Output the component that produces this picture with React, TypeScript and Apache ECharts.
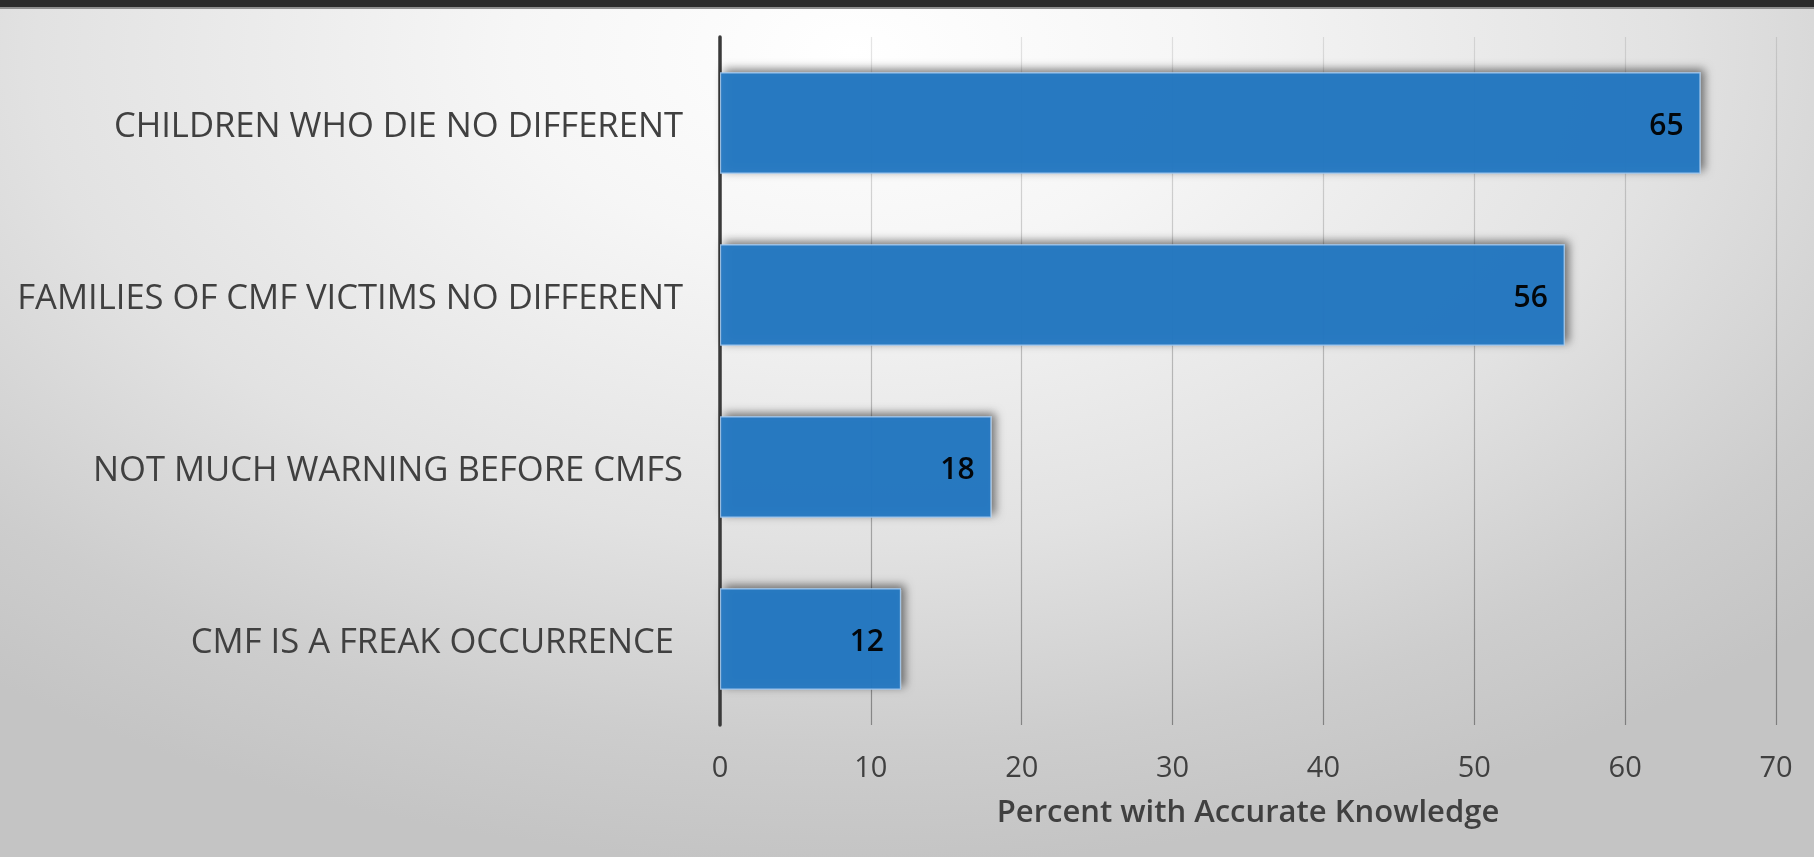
import React, { useEffect, useRef } from "react";
import * as echarts from "echarts";

// Survey items, listed top to bottom
const categories = [
  "CHILDREN WHO DIE NO DIFFERENT",
  "FAMILIES OF CMF VICTIMS NO DIFFERENT",
  "NOT MUCH WARNING BEFORE CMFS",
  "CMF IS A FREAK OCCURRENCE ",
];
// Percent of respondents with accurate knowledge per item
const percents = [65, 56, 18, 12];
const axisTitle = "Percent with Accurate Knowledge";
const xMin = 0;
const xMax = 70;
const xStep = 10;

const W = 1814;
const H = 857;
const FONT = "'Open Sans', 'Noto Sans', sans-serif";

export default function App() {
  const ref = useRef<HTMLDivElement>(null);

  useEffect(() => {
    if (!ref.current) return;
    const chart = echarts.init(ref.current, null, { renderer: "svg" });
    const gridTop = 37;
    const gridBottom = 132;
    chart.setOption({
      animation: false,
      backgroundColor: "transparent",
      textStyle: { fontFamily: FONT },
      grid: { left: 720, right: 38, top: gridTop, bottom: gridBottom, containLabel: false },
      xAxis: {
        type: "value",
        min: xMin,
        max: xMax,
        interval: xStep,
        axisLine: { show: false },
        axisTick: { show: false },
        axisLabel: { color: "#404040", fontSize: 29, margin: 26, fontFamily: FONT },
        splitLine: {
          show: true,
          lineStyle: {
            width: 1.2,
            color: new echarts.graphic.LinearGradient(
              0, gridTop, 0, H - gridBottom,
              [
                { offset: 0, color: "rgba(0,0,0,0.1)" },
                { offset: 1, color: "rgba(0,0,0,0.36)" },
              ],
              true
            ),
          },
        },
        name: axisTitle,
        nameLocation: "middle",
        nameGap: 69,
        nameTextStyle: { color: "#404040", fontSize: 31, fontWeight: 600, fontFamily: FONT },
      },
      yAxis: {
        type: "category",
        data: categories,
        inverse: true,
        axisLine: { show: true, lineStyle: { color: "#3a3a3a", width: 3.5 } },
        axisTick: { show: false },
        axisLabel: { color: "#404040", fontSize: 34.6, margin: 37, fontFamily: FONT },
        splitLine: { show: false },
      },
      series: [
        {
          type: "bar",
          data: percents,
          barCategoryGap: "41%",
          itemStyle: {
            color: "#2477c2",
            opacity: 0.95,
            borderColor: "rgba(170,205,240,0.9)",
            borderWidth: 1.2,
            shadowColor: "rgba(0,0,0,0.55)",
            shadowBlur: 10,
            shadowOffsetX: 4,
            shadowOffsetY: -3,
          },
          label: {
            show: true,
            position: "insideRight",
            distance: 17,
            color: "#000000",
            fontSize: 30,
            fontWeight: 600,
            fontFamily: FONT,
          },
        },
      ],
      graphic: [
        {
          type: "rect",
          shape: { x: 0, y: 0, width: W, height: 7 },
          style: { fill: "#2b2b2b" },
          silent: true,
        },
        {
          type: "rect",
          shape: { x: 0, y: 7, width: W, height: 2 },
          style: { fill: "#8f8f8f" },
          silent: true,
        },
      ],
    });
    return () => chart.dispose();
  }, []);

  return (
    <div
      style={{
        position: "fixed",
        left: 0,
        top: 0,
        width: W,
        height: H,
        background:
          "radial-gradient(ellipse 75% 95% at 47% 6%, #ffffff 0%, #f6f6f6 25%, #e2e2e2 60%, #cdcdcd 85%, #c4c4c4 100%)",
      }}
    >
      <div ref={ref} style={{ width: W, height: H }} />
    </div>
  );
}
